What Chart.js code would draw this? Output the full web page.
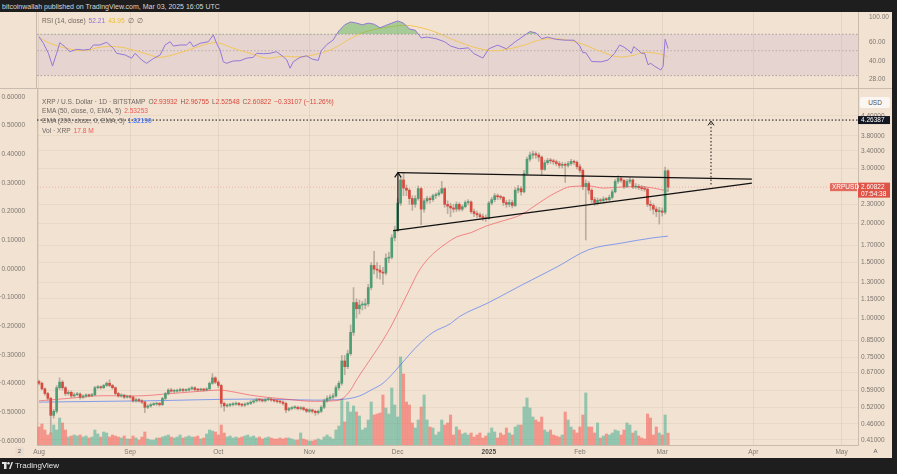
<!DOCTYPE html>
<html lang="en">
<head>
<meta charset="utf-8">
<title>XRP / U.S. Dollar · 1D · BITSTAMP</title>
<script src="https://cdn.jsdelivr.net/npm/chart.js@4.4.1/dist/chart.umd.min.js"></script>
<style>
  html, body { margin: 0; padding: 0; background: #1e1e1e; }
  #wrap { position: relative; width: 897px; height: 474px; overflow: hidden; background: #1e1e1e;
          font-family: "Liberation Sans", Arial, sans-serif; }
  #byline { position: absolute; left: 2px; top: 1px; font-size: 7px; line-height: 11px; color: #d8d8d8; white-space: nowrap; }
  #pane { position: absolute; left: 0; top: 12px; width: 892px; height: 446px; background: #f2e2d2; }
  #pane canvas { position: absolute; left: 0; }
  #rsiCanvas { top: 0; }
  #mainCanvas { top: 77px; }
  .legend { position: absolute; left: 42px; font-size: 6.6px; line-height: 9px; color: #6e6660; white-space: nowrap; }
  .legend b { font-weight: normal; margin-left: 3px; }
  .red { color: #d9483d; }
  .pink { color: #ef5a55; }
  .blue { color: #2962ff; }
  .purple { color: #8e6fd0; }
  .yellow { color: #e9be3c; }
  #usd { position: absolute; left: 860px; top: 85px; width: 30px; height: 11px; background: #fbf6f1; border-radius: 2px;
         font-size: 6.5px; line-height: 11px; text-align: center; color: #555; }
  #zoomBox { position: absolute; left: 15px; top: 435px; width: 9px; height: 9px; background: #ebdccd; border-radius: 2px;
             font-size: 6px; line-height: 9px; text-align: center; color: #555; }
  #autoBox { position: absolute; left: 871px; top: 435px; width: 9px; height: 9px; font-size: 6px; line-height: 9px;
             text-align: center; color: #555; }
  #brand { position: absolute; left: 2px; top: 461px; font-size: 8px; line-height: 10px; color: #e4e4e4; white-space: nowrap; }
  #brand svg { vertical-align: -1px; margin-right: 2px; }
</style>
</head>
<body>
<div id="wrap">
  <div id="byline">bitcoinwallah published on TradingView.com, Mar 03, 2025 16:05 UTC</div>
  <div id="pane">
    <canvas id="rsiCanvas" width="892" height="77"></canvas>
    <canvas id="mainCanvas" width="892" height="369"></canvas>
    <div class="legend" style="top:4px">RSI (14, close)<b class="purple">52.21</b><b class="yellow">43.95</b><b>∅</b><b>∅</b></div>
    <div class="legend" style="top:84.5px">XRP / U.S. Dollar · 1D · BITSTAMP<b>O<span class="red">2.93932</span></b><b>H<span class="red">2.96755</span></b><b>L<span class="red">2.52548</span></b><b>C<span class="red">2.60822</span></b><b class="red">−0.33107 (−11.26%)</b></div>
    <div class="legend" style="top:94.3px">EMA (50, close, 0, EMA, 5)<b class="pink">2.53253</b></div>
    <div class="legend" style="top:104.1px">EMA (200, close, 0, EMA, 5)<b class="blue">1.82190</b></div>
    <div class="legend" style="top:113.6px">Vol · XRP<b class="pink">17.8 M</b></div>
    <div id="usd">USD</div>
    <div id="zoomBox">2</div>
    <div id="autoBox">A</div>
  </div>
  <div id="brand"><svg width="11" height="7" viewBox="0 0 22 14"><rect x="0" y="0" width="9" height="4" fill="#e4e4e4"/><rect x="4" y="0" width="5" height="14" fill="#e4e4e4"/><circle cx="13" cy="2.5" r="2.5" fill="#e4e4e4"/><polygon points="14,14 19,0 22,0 17,14" fill="#e4e4e4"/></svg>TradingView</div>
</div>
<script>
// day index 0 = 1 Aug 2024, last candle = 3 Mar 2025
const monthTickDays = [0, 31, 61, 92, 122, 153, 184, 212, 243, 273];
const monthTickLabels = ['Aug', 'Sep', 'Oct', 'Nov', 'Dec', '2025', 'Feb', 'Mar', 'Apr', 'May'];
const priceTicks = [0.41, 0.46, 0.52, 0.59, 0.67, 0.75, 0.85, 1.00, 1.15, 1.30, 1.50, 1.70, 2.00, 2.30, 3.00, 3.40, 3.80, 4.40];
const pctTicks = [-0.6, -0.5, -0.4, -0.3, -0.2, -0.1, 0, 0.1, 0.2, 0.3, 0.4, 0.5, 0.6];
const rsiTicks = [28, 40, 60, 100];
const rsiLevels = [70, 50, 30];

const opens = [
  0.628,0.620,0.595,0.575,0.555,0.490,0.505,0.600,0.625,0.600,
  0.575,0.580,0.565,0.570,0.573,0.560,0.565,0.568,0.566,0.570,
  0.600,0.603,0.600,0.610,0.620,0.610,0.600,0.575,0.565,0.568,
  0.560,
  0.562,0.560,0.545,0.550,0.545,0.540,0.520,0.525,0.530,0.532,
  0.535,0.530,0.555,0.575,0.590,0.585,0.585,0.588,0.592,0.588,
  0.590,0.595,0.600,0.592,0.590,0.593,0.590,0.595,0.620,0.645,
  0.625,0.610,0.535,0.525,0.528,0.530,0.532,0.535,0.530,0.528,
  0.532,0.535,0.540,0.545,0.550,0.548,0.545,0.550,0.552,0.548,
  0.545,0.542,0.540,0.535,0.510,0.515,0.518,0.520,0.515,0.518,
  0.512,0.505,0.510,0.505,0.500,0.505,0.520,0.545,0.555,0.560,
  0.565,0.600,0.620,0.730,0.700,0.770,0.900,1.120,1.070,1.100,
  1.100,1.110,1.250,1.470,1.430,1.420,1.400,1.390,1.550,1.560,
  1.800,1.900,2.320,2.750,2.590,2.550,2.400,2.300,2.400,2.580,
  2.220,2.360,2.400,2.380,2.450,2.470,2.500,2.580,2.300,2.270,
  2.240,2.220,2.300,2.220,2.260,2.330,2.340,2.180,2.150,2.130,
  2.100,2.080,2.070,2.320,2.380,2.450,2.430,2.420,2.330,2.300,
  2.330,2.280,2.550,2.580,2.520,2.880,3.200,3.300,3.330,3.300,
  3.250,2.970,3.120,3.170,3.160,3.140,3.100,3.060,3.080,3.060,
  3.100,3.150,3.130,3.030,2.950,2.620,2.680,2.550,2.380,2.330,
  2.370,2.360,2.390,2.380,2.420,2.520,2.720,2.780,2.740,2.620,
  2.720,2.750,2.610,2.620,2.600,2.580,2.570,2.300,2.280,2.220,
  2.180,2.190,2.170,2.93932
];
const highs = [
  0.635,0.625,0.600,0.580,0.560,0.512,0.610,0.645,0.632,0.605,
  0.588,0.586,0.578,0.580,0.578,0.570,0.574,0.573,0.576,0.606,
  0.610,0.608,0.615,0.626,0.636,0.615,0.604,0.580,0.574,0.572,
  0.568,
  0.567,0.564,0.556,0.555,0.550,0.544,0.530,0.536,0.538,0.540,
  0.539,0.560,0.580,0.596,0.598,0.592,0.594,0.598,0.597,0.595,
  0.600,0.606,0.604,0.597,0.598,0.597,0.600,0.626,0.665,0.650,
  0.632,0.615,0.540,0.533,0.535,0.538,0.540,0.539,0.535,0.537,
  0.540,0.546,0.550,0.556,0.555,0.553,0.555,0.558,0.556,0.553,
  0.550,0.547,0.545,0.540,0.520,0.523,0.526,0.524,0.523,0.522,
  0.516,0.515,0.513,0.509,0.510,0.526,0.552,0.565,0.570,0.575,
  0.610,0.630,0.760,0.760,0.790,0.950,1.250,1.150,1.140,1.130,
  1.150,1.280,1.500,1.630,1.500,1.470,1.450,1.600,1.620,1.840,
  1.960,2.400,2.800,2.900,2.650,2.580,2.450,2.450,2.630,2.600,
  2.400,2.440,2.430,2.480,2.500,2.550,2.720,2.600,2.360,2.320,
  2.300,2.340,2.330,2.290,2.360,2.380,2.360,2.220,2.190,2.160,
  2.140,2.130,2.350,2.420,2.490,2.480,2.460,2.440,2.370,2.380,
  2.370,2.600,2.640,2.620,2.950,3.250,3.370,3.400,3.380,3.350,
  3.280,3.180,3.220,3.220,3.200,3.180,3.150,3.130,3.120,3.150,
  3.200,3.180,3.160,3.080,2.980,2.750,2.720,2.580,2.420,2.410,
  2.400,2.430,2.420,2.460,2.560,2.760,2.840,2.820,2.760,2.760,
  2.800,2.770,2.680,2.660,2.640,2.620,2.590,2.360,2.310,2.260,
  2.250,2.240,3.020,2.96755
];
const lows = [
  0.612,0.590,0.568,0.548,0.430,0.480,0.498,0.592,0.590,0.566,
  0.568,0.558,0.560,0.565,0.552,0.555,0.560,0.561,0.562,0.566,
  0.595,0.594,0.596,0.605,0.604,0.594,0.570,0.560,0.560,0.554,
  0.556,
  0.555,0.540,0.540,0.540,0.534,0.500,0.515,0.520,0.526,0.527,
  0.524,0.526,0.550,0.570,0.580,0.578,0.580,0.583,0.583,0.584,
  0.585,0.590,0.587,0.585,0.586,0.585,0.586,0.590,0.615,0.618,
  0.600,0.520,0.505,0.520,0.522,0.525,0.527,0.525,0.522,0.523,
  0.528,0.530,0.535,0.540,0.542,0.540,0.540,0.545,0.543,0.540,
  0.537,0.535,0.528,0.500,0.505,0.510,0.513,0.510,0.510,0.507,
  0.500,0.500,0.498,0.490,0.494,0.500,0.515,0.540,0.548,0.552,
  0.560,0.590,0.612,0.660,0.690,0.760,0.880,1.000,1.030,1.060,
  1.070,1.090,1.230,1.380,1.340,1.330,1.280,1.370,1.500,1.540,
  1.760,1.880,2.280,2.450,2.450,2.300,2.200,2.250,2.370,1.980,
  2.170,2.320,2.320,2.350,2.400,2.440,2.480,2.250,2.150,2.100,
  2.170,2.180,2.190,2.190,2.240,2.290,2.150,2.100,2.080,2.060,
  2.040,2.030,2.060,2.290,2.340,2.380,2.380,2.280,2.250,2.260,
  2.240,2.260,2.500,2.460,2.500,2.850,3.150,3.220,3.220,3.150,
  2.850,2.950,3.080,3.100,3.080,3.050,3.000,3.000,2.700,3.020,
  3.060,3.080,2.980,2.900,2.560,1.770,2.480,2.330,2.280,2.290,
  2.320,2.320,2.330,2.350,2.390,2.500,2.680,2.700,2.580,2.600,
  2.680,2.580,2.580,2.560,2.540,2.530,2.260,2.200,2.140,2.100,
  1.990,2.110,2.140,2.52548
];
const closes = [
  0.620,0.595,0.575,0.555,0.490,0.505,0.600,0.625,0.600,0.575,
  0.580,0.565,0.570,0.573,0.560,0.565,0.568,0.566,0.570,0.600,
  0.603,0.600,0.610,0.620,0.610,0.600,0.575,0.565,0.568,0.560,
  0.562,
  0.560,0.545,0.550,0.545,0.540,0.520,0.525,0.530,0.532,0.535,
  0.530,0.555,0.575,0.590,0.585,0.585,0.588,0.592,0.588,0.590,
  0.595,0.600,0.592,0.590,0.593,0.590,0.595,0.620,0.645,0.625,
  0.610,0.535,0.525,0.528,0.530,0.532,0.535,0.530,0.528,0.532,
  0.535,0.540,0.545,0.550,0.548,0.545,0.550,0.552,0.548,0.545,
  0.542,0.540,0.535,0.510,0.515,0.518,0.520,0.515,0.518,0.512,
  0.505,0.510,0.505,0.500,0.505,0.520,0.545,0.555,0.560,0.565,
  0.600,0.620,0.730,0.700,0.770,0.900,1.120,1.070,1.100,1.100,
  1.110,1.250,1.470,1.430,1.420,1.400,1.390,1.550,1.560,1.800,
  1.900,2.320,2.750,2.590,2.550,2.400,2.300,2.400,2.580,2.220,
  2.360,2.400,2.380,2.450,2.470,2.500,2.580,2.300,2.270,2.240,
  2.220,2.300,2.220,2.260,2.330,2.340,2.180,2.150,2.130,2.100,
  2.080,2.070,2.320,2.380,2.450,2.430,2.420,2.330,2.300,2.330,
  2.280,2.550,2.580,2.520,2.880,3.200,3.300,3.330,3.300,3.250,
  2.970,3.120,3.170,3.160,3.140,3.100,3.060,3.080,3.060,3.100,
  3.150,3.130,3.030,2.950,2.620,2.680,2.550,2.380,2.330,2.370,
  2.360,2.390,2.380,2.420,2.520,2.720,2.780,2.740,2.620,2.720,
  2.750,2.610,2.620,2.600,2.580,2.570,2.300,2.280,2.220,2.180,
  2.190,2.170,2.939,2.60822
];
// volume, millions of XRP
const volumes = [
  27,31.5,22.5,15,18,30,22.5,40.5,33,22.5,
  12,13.5,15,13.5,15,12,13.5,10.5,12,22.5,
  16.5,12,19.5,18,12,15,13.5,12,10.5,13.5,
  9,9,13.5,10.5,7.5,12,19.5,9,7.5,7.5,
  10.5,10.5,12,13.5,15,12,10.5,12,15,10.5,
  12,13.5,12,12,13.5,9,10.5,16.5,22.5,21,
  19.5,15,30,18,12,13.5,10.5,12,10.5,12,
  13.5,15,12,13.5,10.5,12,9,10.5,12,10.5,
  9,9,10.5,9,10.5,10.5,9,7.5,7.5,18,
  9,7.5,6,6,7.5,9,7.5,12,15,12,
  9,22.5,28.5,69,34.5,64.5,49.5,58.5,49.5,43.5,
  22.5,25.5,37.5,64.5,45,46.5,48,75,55.5,46.5,
  85.5,60,42,132,106.5,64.5,60,33,25.5,37.5,
  57,75,37.5,27,25.5,15,19.5,37.5,30,33,
  45,15,27,22.5,16.5,18,15,18,12,15,
  18,10.5,13.5,18,25.5,19.5,10.5,18,15,25.5,
  18,15,27,30,30,57,70.5,55.5,42,37.5,
  34.5,42,22.5,19.5,22.5,15,13.5,12,15,49.5,
  37.5,27,22.5,18,27,45,78,27,27,18,
  33,10.5,13.5,16.5,15,18,22.5,21,15,22.5,
  33,30,18,21,13.5,10.5,9,46.5,40.5,15,
  27,18,15,45,17.8
];

const ema50Days = [0,11,22,33,45,55,61,67,72,83,94,100,103,106,108,111,114,117,120,123,126,129,132,135,139,142,147,152,158,164,167,170,173,176,181,187,192,198,204,209,214];
const ema50Values = [0.545,0.556,0.566,0.565,0.575,0.585,0.59,0.58,0.568,0.553,0.543,0.545,0.552,0.59,0.635,0.70,0.77,0.85,0.95,1.08,1.23,1.40,1.53,1.63,1.74,1.81,1.87,1.96,2.04,2.13,2.22,2.32,2.42,2.51,2.62,2.63,2.59,2.61,2.62,2.59,2.53253];
const ema200Days = [0,36,72,94,104,109,113,117,120,123,126,129,134,140,143,153,164,176,187,198,209,214];
const ema200Values = [0.54,0.545,0.552,0.548,0.552,0.565,0.59,0.62,0.66,0.71,0.765,0.82,0.90,0.96,1.01,1.12,1.27,1.45,1.65,1.73,1.80,1.8219];

const rsiDays = [0,1.5,3.2,4.6,6,7.1,8.8,10.5,12.8,15.1,17.3,18.5,20.7,23,25.3,26.4,29.3,31.5,32.7,34.9,
  36.6,38.9,41.2,42.9,44.6,45.7,48,50.2,51.4,52.5,54.8,57.6,59.3,60.4,61.6,62.7,63.8,66.1,68.4,70.6,
  72.9,74,76.3,78.6,80.8,83.1,84.3,85.4,86.5,88.8,
  91,93,95,96,98,100,102,104,106,108,110,112,114,116,118,120,122,124,126,128,130,132,135,138,140,
  143,146,148,151,153,156,159,162,165,167,169,171,173,176,179,182,184,185,186,188,
  191.3,193.6,195.8,197.5,198.7,200.4,201.5,202.3,203.8,204.9,206,207.2,208.1,209.4,210.6,211.5,212.3,213,214];
const rsiValues = [66.6,58.2,47.4,36.5,47.4,58.9,54.3,49,51.4,50.7,51.4,56.2,56.2,59.4,52.5,47.4,45.8,42.9,47.4,41.3,
  38.6,42.5,45.8,56.2,60.1,55,56.2,56.2,60.1,54.3,58.2,60.1,69,58.2,50.7,39.8,38.6,40.5,40.7,42.9,
  43.6,47.4,47,47.4,49,44.2,41.3,34.9,39.8,43.6,
  45,42,41,50,57,62,75,85,90,88,85,88,86,80,84,88,92,88,78,76,65,66,64,60,55,
  52,53,47,43,52,56,52,60,68,74,72,64,66,63,62,62,55,48,48,40,
  39.8,41.3,47.4,56.2,54.3,50.7,47.4,54.3,50.7,47.4,47.4,37.5,38.6,36.3,34.9,33.6,36.3,63.2,52.21];
const rsiMaDays = [0,3.7,9.4,15.1,20.7,26.4,32.1,37.8,41.2,49.1,54.8,60.4,66.1,71.8,77.4,83.1,88.8,95,100,105,110,115,120,125,130,135,140,145,150,155,160,165,170,175,180,185,191.3,197,202.7,204.9,208.3,211.7,214];
const rsiMaValues = [65.7,58.2,52.5,50,53.6,54.3,50.7,45.8,43.6,49,55,58.9,52.5,47.4,42.9,44.6,44.1,47,52,62,72,78,82,84,80,73,64,57,52,50,52,56,62,64,62,57,49,44.1,45.8,48,48,46.4,43.95];

// drawn pattern: symmetrical triangle, flagpole arrow and measured target
const triUpperDays = [122.1, 242.5];
const triUpperPrices = [2.90, 2.764];
const triLowerDays = [120.5, 242.5];
const triLowerPrices = [1.896, 2.687];
const poleDays = [122.1, 122.1];
const polePrices = [1.896, 2.90];
const poleHeadDays = [121.0, 122.1, 123.2];
const poleHeadPrices = [2.80, 2.90, 2.80];
const targetPrice = 4.26387;
const targetDays = [228.6, 228.6];
const targetPrices = [2.66, 4.20];
const targetHeadDays = [227.6, 228.6, 229.6];
const targetHeadPrices = [4.10, 4.23, 4.10];
const countdown = '07:54:38';

const xMin = -0.68, xMax = 278.6;
const FONT = '"Liberation Sans", Arial, sans-serif';
const upColor = '#4f9d74', downColor = '#d9493e';

function pts(xs, ys) { return xs.map((x, i) => ({ x: x, y: ys[i] })); }
function flat(v) { return [{ x: xMin, y: v }, { x: xMax, y: v }]; }
function fixBox(w, h) {
  return function (s) {
    if (w != null) s.width = w;
    if (h != null) s.height = h;
    s.paddingTop = 0; s.paddingBottom = 0; s.paddingLeft = 0; s.paddingRight = 0;
  };
}
function setTicks(values) { return function (s) { s.ticks = values.map(v => ({ value: v })); }; }

const lastClose = closes[closes.length - 1];
const days = closes.map((c, i) => i);
const isUp = days.map(i => closes[i] >= opens[i]);

const monthGrid = {
  type: 'linear', min: xMin, max: xMax, offset: false, bounds: 'data',
  afterBuildTicks: setTicks(monthTickDays),
  grid: { color: 'rgba(160,135,110,0.13)', drawTicks: false, offset: false },
};

// ---------- RSI pane ----------
const rsiFrame = {
  id: 'rsiFrame',
  afterDraw(chart) {
    const ctx = chart.ctx, a = chart.chartArea;
    ctx.save();
    ctx.strokeStyle = '#c9bcaf';
    ctx.lineWidth = 1;
    ctx.beginPath();
    ctx.moveTo(a.left - 0.5, 0); ctx.lineTo(a.left - 0.5, chart.height);
    ctx.moveTo(0, chart.height - 0.5); ctx.lineTo(chart.width, chart.height - 0.5);
    ctx.stroke();
    ctx.restore();
  }
};

new Chart(document.getElementById('rsiCanvas'), {
  type: 'line',
  data: {
    datasets: [
      { data: pts(rsiDays, rsiValues), borderColor: '#9277d6', borderWidth: 1, pointRadius: 0, tension: 0,
        fill: { target: { value: rsiLevels[0] }, above: 'rgba(76,175,80,0.45)', below: 'rgba(0,0,0,0)' }, order: 0 },
      { data: pts(rsiMaDays, rsiMaValues), borderColor: '#f1c65a', borderWidth: 1, pointRadius: 0, tension: 0.4, order: 1 },
      { data: flat(rsiLevels[0]), borderColor: 'rgba(120,110,110,0.55)', borderWidth: 1, borderDash: [1.5, 2], pointRadius: 0,
        fill: { value: rsiLevels[2] }, backgroundColor: 'rgba(126,87,194,0.10)', order: 3 },
      { data: flat(rsiLevels[1]), borderColor: 'rgba(120,110,110,0.4)', borderWidth: 1, borderDash: [1.5, 2], pointRadius: 0, order: 3 },
      { data: flat(rsiLevels[2]), borderColor: 'rgba(120,110,110,0.55)', borderWidth: 1, borderDash: [1.5, 2], pointRadius: 0, order: 3 }
    ]
  },
  options: {
    responsive: false, maintainAspectRatio: false, animation: false, events: [], devicePixelRatio: 1,
    layout: { padding: { left: 37, right: 0, top: 0, bottom: 0 } },
    plugins: { legend: { display: false }, tooltip: { enabled: false } },
    scales: {
      x: Object.assign({}, monthGrid, { ticks: { display: false }, border: { display: false }, afterFit: fixBox(null, 0) }),
      y: {
        type: 'logarithmic', position: 'right', min: 22.8, max: 110.5,
        afterBuildTicks: setTicks(rsiTicks), afterFit: fixBox(34, null),
        grid: { display: false },
        border: { display: true, color: '#c9bcaf' },
        ticks: { padding: 3, color: '#7d766f', font: { family: FONT, size: 6.5 },
                 callback: v => Number(v).toFixed(2) }
      }
    }
  },
  plugins: [rsiFrame]
});

// ---------- price pane ----------
const priceTags = {
  id: 'priceTags',
  afterDraw(chart) {
    const ctx = chart.ctx, y = chart.scales.y, a = chart.chartArea;
    ctx.save();
    ctx.font = '6.5px ' + FONT;
    ctx.textBaseline = 'middle';
    let py = y.getPixelForValue(targetPrice);
    ctx.fillStyle = '#131722';
    ctx.fillRect(a.right, py - 4, 32, 8);
    ctx.fillStyle = '#ffffff';
    ctx.fillText(targetPrice.toFixed(5), a.right + 3, py);
    py = y.getPixelForValue(lastClose);
    ctx.fillStyle = '#df5246';
    ctx.fillRect(a.right, py - 4.5, 32, 15);
    ctx.fillStyle = '#e46a5e';
    ctx.fillRect(a.right - 28, py - 4, 27, 8);
    ctx.fillStyle = '#ffffff';
    ctx.fillText(lastClose.toFixed(5), a.right + 3, py);
    ctx.fillText(countdown, a.right + 3, py + 7.5);
    ctx.fillText('XRPUSD', a.right - 26, py);
    ctx.restore();
  }
};

const lineStyle = { type: 'line', pointRadius: 0, borderWidth: 1.2, borderColor: '#111111', tension: 0, fill: false, order: 0 };

new Chart(document.getElementById('mainCanvas'), {
  type: 'bar',
  data: {
    datasets: [
      Object.assign({}, lineStyle, { data: pts(triUpperDays, triUpperPrices) }),
      Object.assign({}, lineStyle, { data: pts(triLowerDays, triLowerPrices) }),
      Object.assign({}, lineStyle, { data: pts(poleDays, polePrices) }),
      Object.assign({}, lineStyle, { data: pts(poleHeadDays, poleHeadPrices) }),
      Object.assign({}, lineStyle, { data: flat(targetPrice), borderWidth: 1, borderDash: [1.5, 2] }),
      Object.assign({}, lineStyle, { data: pts(targetDays, targetPrices), borderWidth: 1, borderDash: [1.5, 2] }),
      Object.assign({}, lineStyle, { data: pts(targetHeadDays, targetHeadPrices), borderWidth: 1 }),
      { type: 'bar', data: days.map(i => ({ x: i, y: [opens[i], closes[i]] })), grouped: false,
        backgroundColor: days.map(i => isUp[i] ? upColor : downColor), barThickness: 2, minBarLength: 1, order: 1 },
      { type: 'bar', data: days.map(i => ({ x: i, y: [lows[i], highs[i]] })), grouped: false,
        backgroundColor: 'rgba(120,110,100,0.45)', barThickness: 1, order: 2 },
      { type: 'line', data: pts(ema50Days, ema50Values), borderColor: 'rgba(242,54,69,0.55)', borderWidth: 1, pointRadius: 0,
        cubicInterpolationMode: 'monotone', order: 3 },
      { type: 'line', data: pts(ema200Days, ema200Values), borderColor: 'rgba(41,98,255,0.55)', borderWidth: 1, pointRadius: 0,
        cubicInterpolationMode: 'monotone', order: 3 },
      { type: 'line', data: flat(lastClose), borderColor: 'rgba(242,54,69,0.3)', borderWidth: 1, borderDash: [1, 2], pointRadius: 0, order: 4 },
      { type: 'bar', yAxisID: 'yVol', data: days.map(i => ({ x: i, y: volumes[i] })), grouped: false,
        backgroundColor: days.map(i => isUp[i] ? 'rgba(52,168,138,0.5)' : 'rgba(244,86,78,0.55)'), barThickness: 2.4, order: 5 }
    ]
  },
  options: {
    responsive: false, maintainAspectRatio: false, animation: false, events: [], devicePixelRatio: 1,
    layout: { padding: 0 },
    plugins: { legend: { display: false }, tooltip: { enabled: false } },
    scales: {
      x: Object.assign({}, monthGrid, {
        afterFit: fixBox(null, 13),
        border: { display: true, color: '#c9bcaf' },
        ticks: {
          autoSkip: false, maxRotation: 0, padding: 3,
          color: ctx => (ctx.tick && ctx.tick.label === '2025') ? '#4d4742' : '#7d766f',
          font: ctx => ({ family: FONT, size: 6.5, weight: (ctx.tick && ctx.tick.label === '2025') ? 'bold' : 'normal' }),
          callback: v => monthTickLabels[monthTickDays.indexOf(v)]
        }
      }),
      y: {
        type: 'logarithmic', position: 'right', min: 0.3944, max: 5.353, bounds: 'data',
        afterBuildTicks: setTicks(priceTicks), afterFit: fixBox(34, null),
        grid: { color: 'rgba(160,135,110,0.10)', drawTicks: false },
        border: { display: true, color: '#c9bcaf' },
        ticks: { padding: 3, color: '#7d766f', font: { family: FONT, size: 6.5 }, callback: v => Number(v).toFixed(5) }
      },
      yPct: {
        type: 'linear', position: 'left', min: -0.6139, max: 0.6278, bounds: 'data',
        afterBuildTicks: setTicks(pctTicks), afterFit: fixBox(37, null),
        grid: { display: false },
        border: { display: true, color: '#c9bcaf' },
        ticks: { padding: 4, color: '#7d766f', font: { family: FONT, size: 6.5 },
                 callback: v => (v < -1e-9 ? '−' : '') + Math.abs(v).toFixed(5) }
      },
      yVol: { type: 'linear', display: false, min: 0, max: 534 }
    }
  },
  plugins: [priceTags]
});
</script>
</body>
</html>
